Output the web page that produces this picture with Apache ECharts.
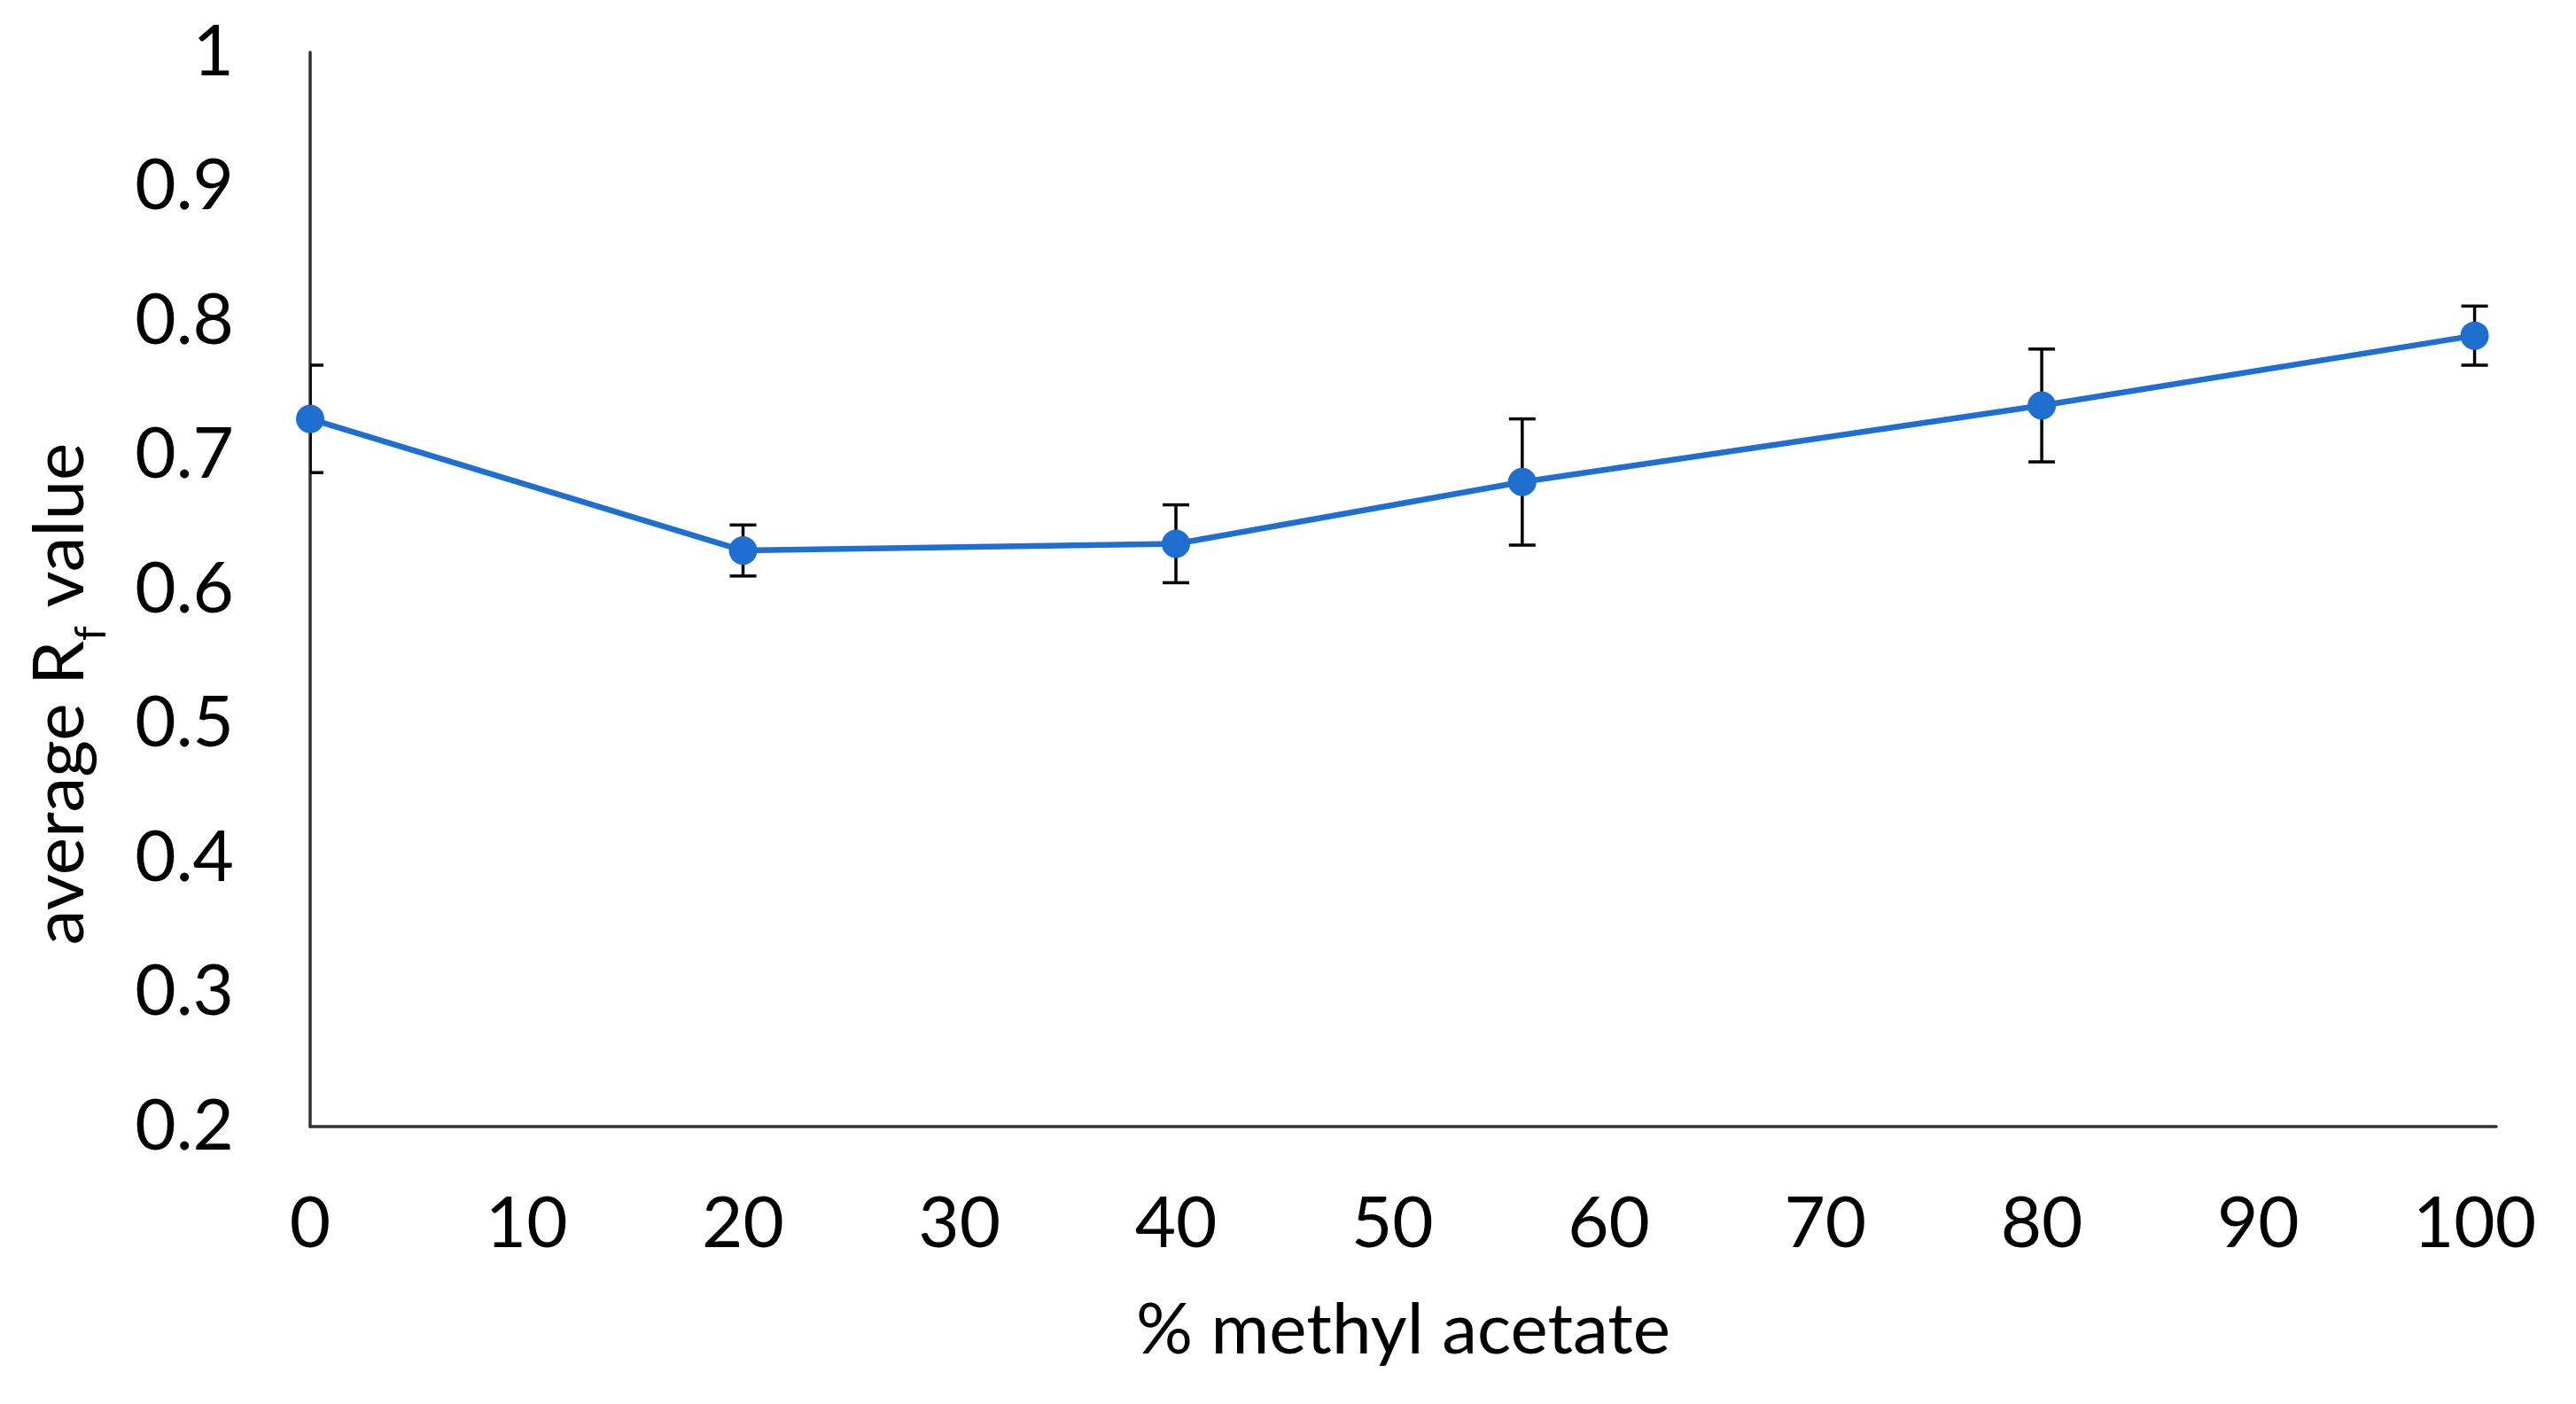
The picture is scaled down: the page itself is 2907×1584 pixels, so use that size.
<!DOCTYPE html>
<html>
<head>
<meta charset="utf-8">
<script src="https://cdn.jsdelivr.net/npm/echarts@6/dist/echarts.min.js"></script>
<style>
html,body{margin:0;padding:0;background:#fff;}
#chart{width:2907px;height:1584px;}
</style>
</head>
<body>
<div id="chart"></div>
<script>
// Data
const percentMethylAcetate = [0, 20, 40, 56, 80, 100];
const averageRf = [0.727, 0.629, 0.634, 0.680, 0.737, 0.789];
const rfError = [0.040, 0.019, 0.029, 0.047, 0.042, 0.022];
const yTicks = [0.2, 0.3, 0.4, 0.5, 0.6, 0.7, 0.8, 0.9, 1];

const FONT = 'Lato';
const BLUE = '#1f6fd1';

const points = percentMethylAcetate.map((x, i) => [x, averageRf[i]]);
const errData = percentMethylAcetate.map((x, i) => [x, averageRf[i] - rfError[i], averageRf[i] + rfError[i]]);

const chart = echarts.init(document.getElementById('chart'), null, {renderer: 'canvas'});
chart.setOption({
  backgroundColor: '#ffffff',
  animation: false,
  grid: {left: 350, right: 90, top: 59, bottom: 313, containLabel: false, outerBoundsMode: 'none'},
  xAxis: {
    type: 'value',
    min: 0, max: 101, interval: 10,
    name: '% methyl acetate',
    nameLocation: 'middle',
    nameGap: 190,
    nameTextStyle: {fontFamily: FONT, fontSize: 80, color: '#000'},
    axisLine: {show: true, onZero: false, lineStyle: {color: '#333', width: 3.5}},
    axisTick: {show: false},
    splitLine: {show: false},
    axisLabel: {
      fontFamily: FONT, fontSize: 80, color: '#000', margin: 70,
      formatter: v => (Math.abs(v % 10) < 1e-9 ? String(v) : '')
    }
  },
  yAxis: {
    type: 'value',
    min: yTicks[0], max: yTicks[yTicks.length - 1], interval: 0.1,
    name: '{a|average R}{sub|f}{a| value}',
    nameLocation: 'middle',
    nameRotate: 90,
    nameGap: 222,
    nameTextStyle: {
      fontFamily: FONT, fontSize: 80, color: '#000',
      padding: [0, 236, 0, 0],
      rich: {
        a: {fontFamily: FONT, fontSize: 80, color: '#000', lineHeight: 120},
        sub: {fontFamily: FONT, fontSize: 48, color: '#000', lineHeight: 48, verticalAlign: 'bottom'}
      }
    },
    axisLine: {show: true, onZero: false, lineStyle: {color: '#333', width: 3.5}},
    axisTick: {show: false},
    splitLine: {show: false},
    axisLabel: {
      fontFamily: FONT, fontSize: 80, color: '#000', margin: 86,
      formatter: v => String(Math.round(v * 10) / 10)
    }
  },
  series: [
    {
      type: 'custom',
      clip: true,
      z: 3,
      data: errData,
      encode: {x: 0, y: [1, 2]},
      renderItem: function (params, api) {
        const x = api.value(0);
        const lo = api.coord([x, api.value(1)]);
        const hi = api.coord([x, api.value(2)]);
        const hw = 15;
        const st = {stroke: '#000', lineWidth: 3.5};
        return {
          type: 'group',
          children: [
            {type: 'line', shape: {x1: lo[0], y1: lo[1], x2: hi[0], y2: hi[1]}, style: st},
            {type: 'line', shape: {x1: hi[0] - hw, y1: hi[1], x2: hi[0] + hw, y2: hi[1]}, style: st},
            {type: 'line', shape: {x1: lo[0] - hw, y1: lo[1], x2: lo[0] + hw, y2: lo[1]}, style: st}
          ]
        };
      }
    },
    {
      type: 'line',
      data: points,
      z: 4,
      clip: false,
      symbol: 'circle',
      symbolSize: 32,
      lineStyle: {color: BLUE, width: 6.5},
      itemStyle: {color: BLUE}
    }
  ]
});
</script>
</body>
</html>
